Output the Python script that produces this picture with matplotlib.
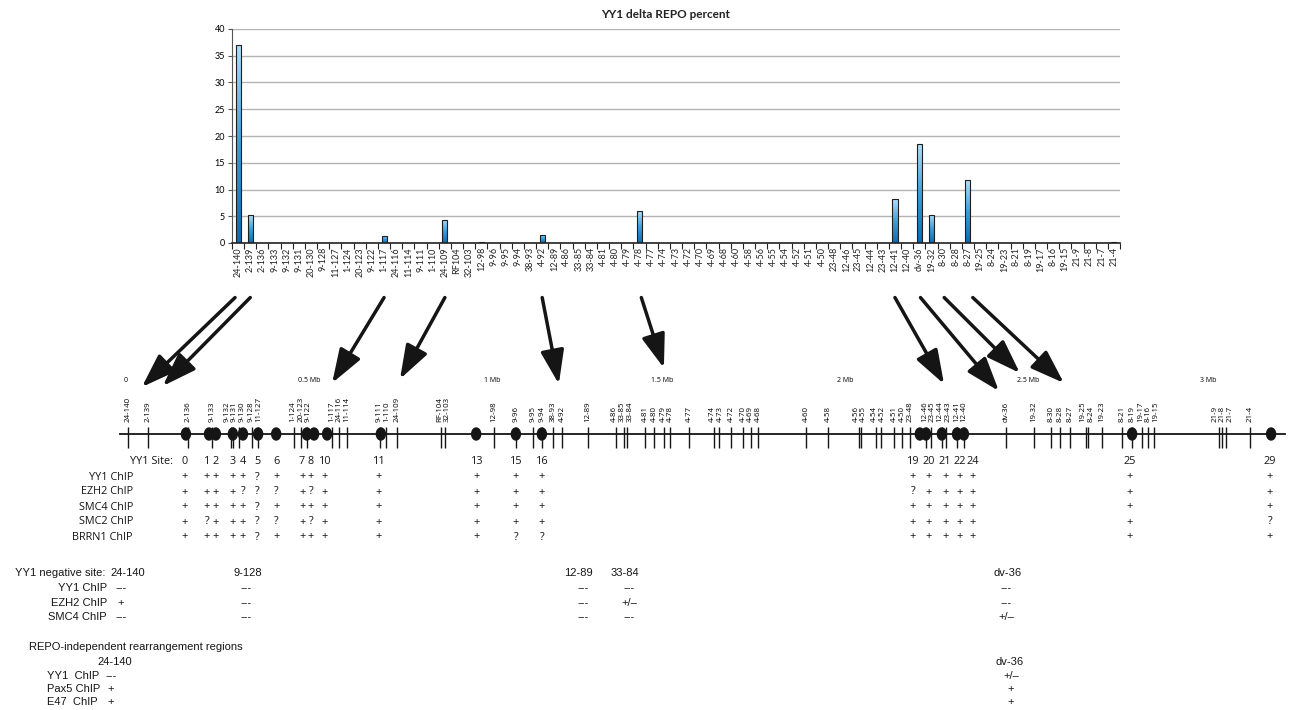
import numpy as np
import matplotlib
matplotlib.use('Agg')
import matplotlib.pyplot as plt
from matplotlib import font_manager
from matplotlib.patches import Ellipse
from matplotlib.colors import LinearSegmentedColormap


def pick_font(*names):
    for name in names:
        try:
            font_manager.findfont(name, fallback_to_default=False)
            return name
        except ValueError:
            continue
    return 'DejaVu Sans'


def spread(pos, min_gap):
    # push neighbouring label positions apart so rotated labels don't collide
    p = np.array(pos, dtype=float)
    for _ in range(500):
        moved = False
        for i in range(1, len(p)):
            gap = p[i] - p[i - 1]
            if gap < min_gap - 1e-9:
                d = (min_gap - gap) / 2
                p[i - 1] -= d
                p[i] += d
                moved = True
        if not moved:
            break
    return p


CHART_FONT = pick_font('Lato', 'Open Sans')
MAP_FONT = pick_font('Open Sans', 'Noto Sans')
NARROW_FONT = pick_font('Liberation Sans Narrow', 'Liberation Sans')
NARROW_SIZE = 9.6 if NARROW_FONT == 'Liberation Sans Narrow' else 8.0

# --- bar chart: YY1 delta REPO percent per V-segment ---
clones = ['24-140', '2-139', '2-136', '9-133', '9-132', '9-131', '20-130', '9-128',
          '11-127', '1-124', '20-123', '9-122', '1-117', '24-116', '11-114', '9-111',
          '1-110', '24-109', 'RF104', '32-103', '12-98', '9-96', '9-95', '9-94',
          '38-93', '4-92', '12-89', '4-86', '33-85', '33-84', '4-81', '4-80', '4-79',
          '4-78', '4-77', '4-74', '4-73', '4-72', '4-70', '4-69', '4-68', '4-60',
          '4-58', '4-56', '4-55', '4-54', '4-52', '4-51', '4-50', '23-48', '12-46',
          '23-45', '12-44', '23-43', '12-41', '12-40', 'dv-36', '19-32', '8-30',
          '8-28', '8-27', '19-25', '8-24', '19-23', '8-21', '8-19', '19-17', '8-16',
          '19-15', '21-9', '21-8', '21-7', '21-4']
repo_pct = [37.1, 5.2, 0, 0, 0, 0, 0, 0,
            0, 0, 0, 0, 1.4, 0, 0, 0,
            0, 4.3, 0, 0, 0.15, 0, 0, 0,
            0, 1.5, 0, 0, 0, 0, 0, 0, 0,
            5.9, 0, 0, 0, 0, 0, 0, 0, 0,
            0, 0, 0, 0, 0, 0, 0, 0, 0,
            0, 0, 0, 8.2, 0, 18.5, 5.3, 0,
            0, 11.7, 0, 0, 0, 0, 0, 0, 0,
            0, 0, 0, 0, 0.15]

# --- genome map: segment positions (Mb) ---
seg_names = ['24-140', '2-139', '2-136', '9-133', '9-132', '9-131', '9-130', '9-128',
             '11-127', '1-124', '20-123', '9-122', '1-117', '24-116', '11-114', '9-111',
             '1-110', '24-109', 'RF-104', '32-103', '12-98', '9-96', '9-95', '9-94',
             '38-93', '4-92', '12-89', '4-86', '33-85', '33-84', '4-81', '4-80', '4-79',
             '4-78', '4-77', '4-74', '4-73', '4-72', '4-70', '4-69', '4-68', '4-60',
             '4-58', '4-56', '4-55', '4-54', '4-52', '4-51', '4-50', '23-48', '12-46',
             '23-45', '12-44', '23-43', '12-41', '12-40', 'dv-36', '19-32', '8-30',
             '8-28', '8-27', '19-25', '8-24', '19-23', '8-21', '8-19', '19-17', '8-16',
             '19-15', '21-9', '21-8', '21-7', '21-4']
seg_mb = [0.006, 0.061, 0.172, 0.238, 0.291, 0.296, 0.313, 0.349,
          0.366, 0.465, 0.485, 0.501, 0.571, 0.590, 0.612, 0.704,
          0.720, 0.751, 0.873, 0.884, 1.019, 1.080, 1.127, 1.152,
          1.183, 1.208, 1.280, 1.357, 1.380, 1.388, 1.438, 1.463, 1.490,
          1.507, 1.560, 1.629, 1.643, 1.676, 1.709, 1.731, 1.751, 1.884,
          1.945, 2.030, 2.036, 2.078, 2.091, 2.127, 2.150, 2.172, 2.216,
          2.230, 2.260, 2.271, 2.302, 2.321, 2.438, 2.515, 2.562,
          2.587, 2.615, 2.659, 2.665, 2.704, 2.759, 2.787, 2.814, 2.831,
          2.848, 3.028, 3.036, 3.047, 3.114]
mb_labels = ['0', '0.5 Mb', '1 Mb', '1.5 Mb', '2 Mb', '2.5 Mb', '3 Mb']
mb_label_pos = [0.0, 0.507, 1.014, 1.486, 1.993, 2.50, 2.997]

# YY1 binding sites (dots) and the ChIP summary under them
sites = [0, 1, 2, 3, 4, 5, 6, 7, 8, 10, 11, 13, 15, 16, 19, 20, 21, 22, 24, 25, 29]
site_mb = [0.166, 0.230, 0.249, 0.296, 0.324, 0.366, 0.416, 0.501, 0.521, 0.557,
           0.706, 0.970, 1.080, 1.152, 2.199, 2.216, 2.260, 2.302, 2.321, 2.787, 3.172]
site_col_mb = [0.163, 0.224, 0.247, 0.294, 0.324, 0.363, 0.416, 0.488, 0.512, 0.551,
               0.701, 0.972, 1.080, 1.152, 2.180, 2.224, 2.269, 2.310, 2.346, 2.781, 3.169]
chip_names = ['YY1 ChIP', 'EZH2 ChIP', 'SMC4 ChIP', 'SMC2 ChIP', 'BRRN1 ChIP']
yy1_chip = list('+++++?+++++++++++++++')
ezh2_chip = list('++++???+?+++++?++++++')
smc4_chip = list('+++++?+++++++++++++++')
smc2_chip = list('+?+++??+?+++++++++++?')
brrn1_chip = list('+++++?++++++??+++++++')

# YY1 negative sites
neg_sites = ['24-140', '9-128', '12-89', '33-84', 'dv-36']
neg_names = ['YY1 ChIP', 'EZH2 ChIP', 'SMC4 ChIP']
neg_yy1 = ['---', '---', '---', '---', '---']
neg_ezh2 = ['+', '---', '---', '+/\u2013', '---']
neg_smc4 = ['---', '---', '---', '---', '+/\u2013']

# REPO-independent rearrangement regions
rind_sites = ['24-140', 'dv-36']
rind_names = ['YY1  ChIP', 'Pax5 ChIP', 'E47  ChIP']
rind_yy1 = ['---', '+/\u2013']
rind_pax5 = ['+', '+']
rind_e47 = ['+', '+']

# arrows: bar-chart segment -> location on the map
arrow_src = ['24-140', '2-139', '1-117', '24-109', '4-92', '4-78',
             '12-41', 'dv-36', '19-32', '8-27']
arrow_dx = [-0.25, 0, 0, 0, 0, 0.15, 0, 0.1, 1.05, 0.4]
arrow_tip_mb = [0.044, 0.102, 0.571, 0.759, 1.199, 1.490, 2.266, 2.418, 2.476, 2.598]
arrow_tip_y = [387, 386, 383, 379, 384, 368, 384, 391, 373, 383]

W, H = 1291, 710
MAP_X0, PX_PER_MB = 126, 361.0
INK = '#151515'

fig = plt.figure(figsize=(W / 100, H / 100), dpi=100)

# ---------------- bar chart ----------------
ax = fig.add_axes([232 / W, 1 - 243 / H, (1120 - 232) / W, (243 - 29) / H])
x = np.arange(len(clones))
vals = np.array(repo_pct)
nz = vals > 0
bars = ax.bar(x[nz], vals[nz], width=0.42, facecolor='none',
              edgecolor='#1e1e1e', linewidth=0.8, zorder=3)
cmap = LinearSegmentedColormap.from_list('excel_blue', ['#0a6bb4', '#3b9fdc', '#b2def6'])
grad = np.linspace(0, 1, 128).reshape(-1, 1)
for b in bars:
    im = ax.imshow(grad, extent=[b.get_x(), b.get_x() + b.get_width(), 0, b.get_height()],
                   origin='lower', aspect='auto', cmap=cmap, zorder=2)
    im.set_clip_path(b)
ax.set_xlim(-0.5, len(clones) - 0.5)
ax.set_ylim(0, 40)
ax.set_yticks(range(0, 41, 5))
ax.yaxis.grid(True, color='#b4b4b4', linewidth=1.0)
ax.set_axisbelow(True)
for side in ('top', 'right'):
    ax.spines[side].set_visible(False)
ax.spines['left'].set_color('#555555')
ax.spines['left'].set_linewidth(0.8)
ax.spines['bottom'].set_color('#222222')
ax.spines['bottom'].set_linewidth(1.2)
ax.set_xticks(x)
ax.set_xticklabels(clones, rotation=90, fontsize=6.5, family=CHART_FONT, color='#222222')
ax.set_xticks(np.arange(-0.5, len(clones), 1), minor=True)
ax.tick_params(axis='x', which='major', length=0, pad=3)
ax.tick_params(axis='x', which='minor', length=4, width=0.8, color='#222222')
ax.tick_params(axis='y', length=3, width=0.8, color='#555555', labelsize=6.5, pad=2)
for lab in ax.get_yticklabels():
    lab.set_family(CHART_FONT)
fig.text(666 / W, 1 - 14 / H, 'YY1 delta REPO percent', ha='center', va='center',
         fontsize=8.5, fontweight='bold', family=CHART_FONT, color='#222222')

# ---------------- overlay axes ----------------
ax_map = fig.add_axes([0, 0, 1, 1], label='map')
ax_map.set_xlim(-MAP_X0 / PX_PER_MB, (W - MAP_X0) / PX_PER_MB)
ax_map.set_ylim(H, 0)
ax_map.axis('off')
ax_txt = fig.add_axes([0, 0, 1, 1], label='text')
ax_txt.set_xlim(0, W)
ax_txt.set_ylim(H, 0)
ax_txt.axis('off')

# genome line, segments, YY1 sites
ax_map.plot([-0.017, 3.211], [434, 434], color=INK, linewidth=1.3, zorder=2)
ax_map.vlines(seg_mb, 427, 448, color=INK, linewidth=1.0, zorder=2)
label_mb = spread(seg_mb, 7.6 / PX_PER_MB)
for name, mb in zip(seg_names, label_mb):
    ax_map.text(mb, 422, name, rotation=90, ha='center', va='bottom',
                fontsize=5.7, family=MAP_FONT, color='#000000')
for mb in site_mb:
    ax_map.add_patch(Ellipse((mb, 434), width=9 / PX_PER_MB, height=12,
                             color=INK, zorder=4))
for lab, mb in zip(mb_labels, mb_label_pos):
    ax_map.text(mb, 381, lab, ha='center', va='center', fontsize=5.0,
                family=MAP_FONT, color='#000000')

# YY1 site table
TBL = dict(fontsize=7.8, family=MAP_FONT, color=INK, va='center')
ax_txt.text(173, 462, 'YY1 Site:', ha='right', **TBL)
for s, mb in zip(sites, site_col_mb):
    ax_map.text(mb, 462, str(s), ha='center', **TBL)
for row_y, name, marks in zip([477, 492, 507, 522, 537], chip_names,
                              [yy1_chip, ezh2_chip, smc4_chip, smc2_chip, brrn1_chip]):
    ax_txt.text(133, row_y, name, ha='right', **TBL)
    for mb, m in zip(site_col_mb, marks):
        ax_map.text(mb, row_y, m, ha='center', **TBL)

# YY1 negative sites
NAR = dict(fontsize=NARROW_SIZE, family=NARROW_FONT, color=INK, va='center')
ax_txt.text(105, 573, 'YY1 negative site:', ha='right', **NAR)
ax_txt.text(110, 573, neg_sites[0], ha='left', **NAR)
for site, hx in zip(neg_sites[1:], [248, 578, 625, 1008]):
    ax_txt.text(hx, 573, site, ha='center', **NAR)
for row_y, name, marks in zip([588, 603, 617], neg_names, [neg_yy1, neg_ezh2, neg_smc4]):
    ax_txt.text(107, row_y, name, ha='right', **NAR)
    for vx, m in zip([121, 246, 583, 629, 1006], marks):
        ax_txt.text(vx, row_y, m, ha='center', **NAR)

# REPO-independent regions
ax_txt.text(29, 647, 'REPO-independent rearrangement regions', ha='left', **NAR)
for site, hx in zip(rind_sites, [115, 1010]):
    ax_txt.text(hx, 662, site, ha='center', **NAR)
for row_y, name, marks in zip([676, 689, 702], rind_names, [rind_yy1, rind_pax5, rind_e47]):
    ax_txt.text(47, row_y, name, ha='left', **NAR)
    for vx, m in zip([111, 1011], marks):
        ax_txt.text(vx, row_y, m, ha='center', **NAR)

# arrows from the bar chart down to the map
for src, dx, tmb, ty in zip(arrow_src, arrow_dx, arrow_tip_mb, arrow_tip_y):
    ax_txt.annotate('', xy=(tmb, ty), xycoords=ax_map.transData,
                    xytext=(clones.index(src) + dx, -10.2), textcoords=ax.transData,
                    annotation_clip=False,
                    arrowprops=dict(arrowstyle='-|>,head_length=1.15,head_width=0.4',
                                    mutation_scale=18, linewidth=2.5, color=INK,
                                    shrinkA=0, shrinkB=0))

fig.savefig('out.png', dpi=100)
